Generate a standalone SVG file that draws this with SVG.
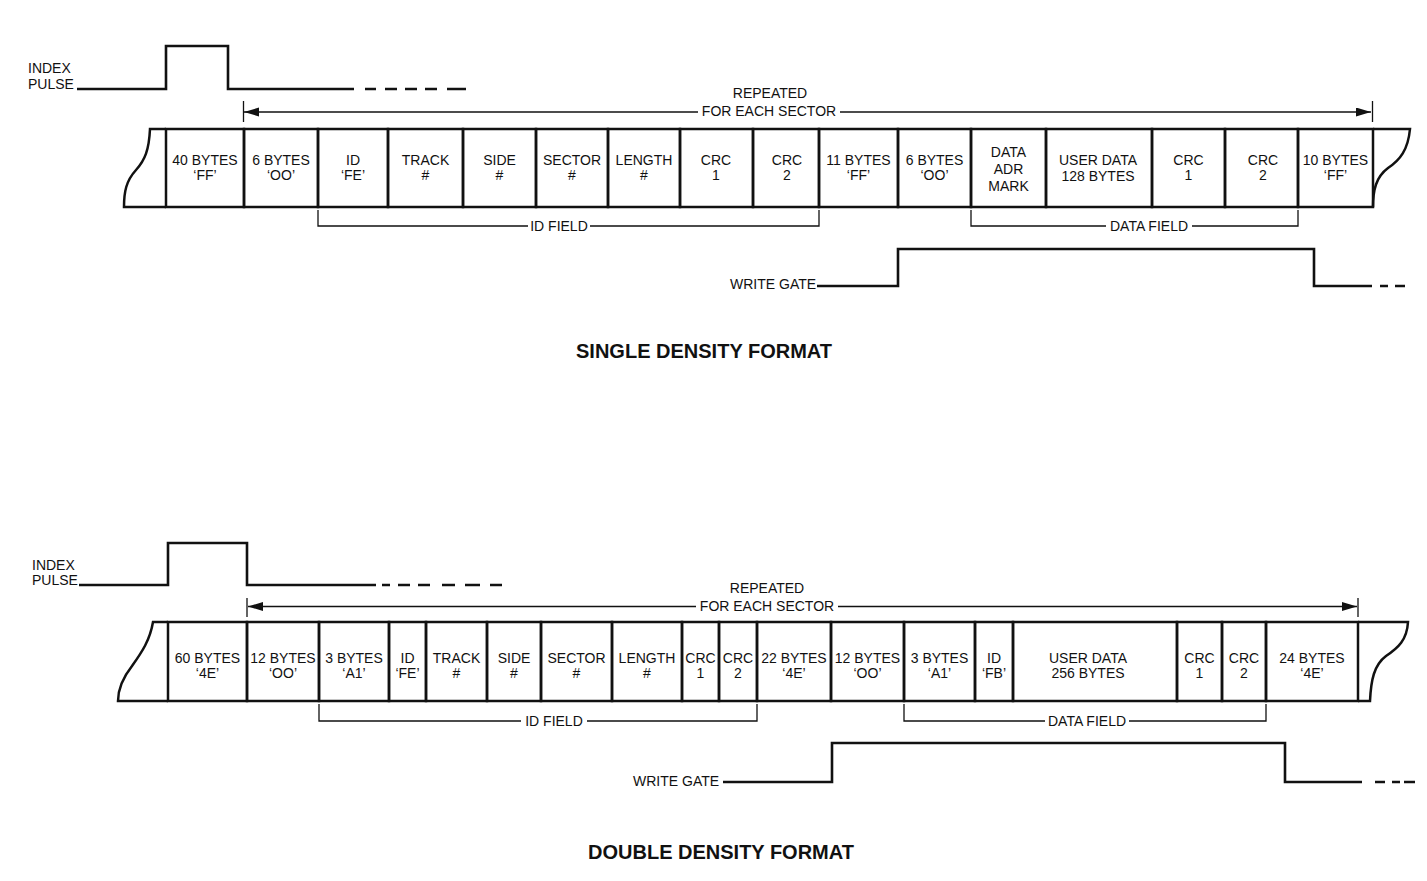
<svg xmlns="http://www.w3.org/2000/svg" width="1427" height="881" viewBox="0 0 1427 881">
<style>
text{font-family:"Liberation Sans",Arial,sans-serif;font-size:14px;fill:#111}
.c{text-anchor:middle}
.e{text-anchor:end}
.title{font-weight:bold;font-size:20px;text-anchor:middle}
.box{fill:none;stroke:#111;stroke-width:2.5}
.sig{fill:none;stroke:#111;stroke-width:2.6;stroke-linejoin:miter}
.thin{fill:none;stroke:#111;stroke-width:1.3}
</style>
<defs>
<marker id="ah" markerUnits="userSpaceOnUse" markerWidth="16" markerHeight="10" refX="15" refY="4.5" orient="auto">
<path d="M0,0 L15,4.5 L0,9 z" fill="#111"/>
</marker>
</defs>
<rect width="1427" height="881" fill="#fff"/>

<!-- ================= SINGLE DENSITY ================= -->
<g id="sd-index-pulse">
<text x="28" y="73">INDEX</text>
<text x="28" y="89">PULSE</text>
<path class="sig" d="M77,89 H166 V46 H228 V89 H354"/>
<path class="sig" d="M365,89 H376 M385,89 H397 M405,89 H417 M425,89 H437 M447,89 H466"/>
</g>

<g id="sd-tape">
<path class="box" d="M166,129 H150 C149,150 145,160 136,170 C126,181 124,192 124,207 H166"/>
<path class="box" d="M1373,129 H1410 C1408,150 1400,160 1388,168 C1376,177 1373,190 1373,207"/>
<g id="sd-c1"><rect class="box" x="166" y="129" width="78" height="78"/><text class="c" x="205" y="164.5">40 BYTES</text><text class="c" x="205" y="180">‘FF’</text></g>
<g id="sd-c2"><rect class="box" x="244" y="129" width="74" height="78"/><text class="c" x="281" y="164.5">6 BYTES</text><text class="c" x="281" y="180">‘OO’</text></g>
<g id="sd-c3"><rect class="box" x="318" y="129" width="70" height="78"/><text class="c" x="353" y="164.5">ID</text><text class="c" x="353" y="180">‘FE’</text></g>
<g id="sd-c4"><rect class="box" x="388" y="129" width="75" height="78"/><text class="c" x="425.5" y="164.5">TRACK</text><text class="c" x="425.5" y="180">#</text></g>
<g id="sd-c5"><rect class="box" x="463" y="129" width="73" height="78"/><text class="c" x="499.5" y="164.5">SIDE</text><text class="c" x="499.5" y="180">#</text></g>
<g id="sd-c6"><rect class="box" x="536" y="129" width="72" height="78"/><text class="c" x="572" y="164.5">SECTOR</text><text class="c" x="572" y="180">#</text></g>
<g id="sd-c7"><rect class="box" x="608" y="129" width="72" height="78"/><text class="c" x="644" y="164.5">LENGTH</text><text class="c" x="644" y="180">#</text></g>
<g id="sd-c8"><rect class="box" x="680" y="129" width="73" height="78"/><text class="c" x="716" y="164.5">CRC</text><text class="c" x="716" y="180">1</text></g>
<g id="sd-c9"><rect class="box" x="753" y="129" width="66" height="78"/><text class="c" x="787" y="164.5">CRC</text><text class="c" x="787" y="180">2</text></g>
<g id="sd-c10"><rect class="box" x="819" y="129" width="79" height="78"/><text class="c" x="858.5" y="164.5">11 BYTES</text><text class="c" x="858.5" y="180">‘FF’</text></g>
<g id="sd-c11"><rect class="box" x="898" y="129" width="73" height="78"/><text class="c" x="934.5" y="164.5">6 BYTES</text><text class="c" x="934.5" y="180">‘OO’</text></g>
<g id="sd-c12"><rect class="box" x="971" y="129" width="75" height="78"/><text class="c" x="1008.5" y="157">DATA</text><text class="c" x="1008.5" y="174">ADR</text><text class="c" x="1008.5" y="191">MARK</text></g>
<g id="sd-c13"><rect class="box" x="1046" y="129" width="106" height="78"/><text class="c" x="1098" y="164.5">USER DATA</text><text class="c" x="1098" y="181">128 BYTES</text></g>
<g id="sd-c14"><rect class="box" x="1152" y="129" width="73" height="78"/><text class="c" x="1188.5" y="164.5">CRC</text><text class="c" x="1188.5" y="180">1</text></g>
<g id="sd-c15"><rect class="box" x="1225" y="129" width="73" height="78"/><text class="c" x="1263" y="164.5">CRC</text><text class="c" x="1263" y="180">2</text></g>
<g id="sd-c16"><rect class="box" x="1298" y="129" width="75" height="78"/><text class="c" x="1335.5" y="164.5">10 BYTES</text><text class="c" x="1335.5" y="180">‘FF’</text></g>
</g>

<g id="sd-write-gate">
<text x="730" y="289">WRITE GATE</text>
<path class="sig" d="M817,286 H898 V249 H1314 V286 H1372"/>
<path class="sig" d="M1380,286 H1388 M1395,286 H1405"/>
</g>

<g id="sd-title"><text class="title" x="704" y="358">SINGLE DENSITY FORMAT</text></g>

<!-- ================= DOUBLE DENSITY ================= -->
<g id="dd-index-pulse">
<text x="32" y="570">INDEX</text>
<text x="32" y="585">PULSE</text>
<path class="sig" d="M79,585 H168 V543 H247 V585 H376"/>
<path class="sig" d="M382,585 H390 M398,585 H410 M418,585 H430 M442,585 H455 M465,585 H480 M490,585 H502"/>
</g>

<g id="dd-tape">
<path class="box" d="M168,622 H153 C150,640 142,652 132,666 C121,680 118,690 118,701 H168"/>
<path class="box" d="M1358,622 H1408 C1407,640 1398,648 1386,656 C1374,665 1371,680 1370,701 H1358"/>
<g id="dd-c1"><rect class="box" x="168" y="622" width="79" height="79"/><text class="c" x="207.5" y="663">60 BYTES</text><text class="c" x="207.5" y="678">‘4E’</text></g>
<g id="dd-c2"><rect class="box" x="247" y="622" width="72" height="79"/><text class="c" x="283" y="663">12 BYTES</text><text class="c" x="283" y="678">‘OO’</text></g>
<g id="dd-c3"><rect class="box" x="319" y="622" width="70" height="79"/><text class="c" x="354" y="663">3 BYTES</text><text class="c" x="354" y="678">‘A1’</text></g>
<g id="dd-c4"><rect class="box" x="389" y="622" width="37" height="79"/><text class="c" x="407.5" y="663">ID</text><text class="c" x="407.5" y="678">‘FE’</text></g>
<g id="dd-c5"><rect class="box" x="426" y="622" width="61" height="79"/><text class="c" x="456.5" y="663">TRACK</text><text class="c" x="456.5" y="678">#</text></g>
<g id="dd-c6"><rect class="box" x="487" y="622" width="54" height="79"/><text class="c" x="514" y="663">SIDE</text><text class="c" x="514" y="678">#</text></g>
<g id="dd-c7"><rect class="box" x="541" y="622" width="71" height="79"/><text class="c" x="576.5" y="663">SECTOR</text><text class="c" x="576.5" y="678">#</text></g>
<g id="dd-c8"><rect class="box" x="612" y="622" width="70" height="79"/><text class="c" x="647" y="663">LENGTH</text><text class="c" x="647" y="678">#</text></g>
<g id="dd-c9"><rect class="box" x="682" y="622" width="37" height="79"/><text class="c" x="700.5" y="663">CRC</text><text class="c" x="700.5" y="678">1</text></g>
<g id="dd-c10"><rect class="box" x="719" y="622" width="38" height="79"/><text class="c" x="738" y="663">CRC</text><text class="c" x="738" y="678">2</text></g>
<g id="dd-c11"><rect class="box" x="757" y="622" width="74" height="79"/><text class="c" x="794" y="663">22 BYTES</text><text class="c" x="794" y="678">‘4E’</text></g>
<g id="dd-c12"><rect class="box" x="831" y="622" width="73" height="79"/><text class="c" x="867.5" y="663">12 BYTES</text><text class="c" x="867.5" y="678">‘OO’</text></g>
<g id="dd-c13"><rect class="box" x="904" y="622" width="71" height="79"/><text class="c" x="939.5" y="663">3 BYTES</text><text class="c" x="939.5" y="678">‘A1’</text></g>
<g id="dd-c14"><rect class="box" x="975" y="622" width="38" height="79"/><text class="c" x="994" y="663">ID</text><text class="c" x="994" y="678">‘FB’</text></g>
<g id="dd-c15"><rect class="box" x="1013" y="622" width="164" height="79"/><text class="c" x="1088" y="663">USER DATA</text><text class="c" x="1088" y="678">256 BYTES</text></g>
<g id="dd-c16"><rect class="box" x="1177" y="622" width="45" height="79"/><text class="c" x="1199.5" y="663">CRC</text><text class="c" x="1199.5" y="678">1</text></g>
<g id="dd-c17"><rect class="box" x="1222" y="622" width="44" height="79"/><text class="c" x="1244" y="663">CRC</text><text class="c" x="1244" y="678">2</text></g>
<g id="dd-c18"><rect class="box" x="1266" y="622" width="92" height="79"/><text class="c" x="1312" y="663">24 BYTES</text><text class="c" x="1312" y="678">‘4E’</text></g>
</g>

<g id="dd-write-gate">
<text x="633" y="786">WRITE GATE</text>
<path class="sig" d="M723,782 H832 V743 H1285 V782 H1362"/>
<path class="sig" d="M1375,782 H1385 M1392,782 H1400 M1404,782 H1415"/>
</g>

<g id="dd-title"><text class="title" x="721" y="859">DOUBLE DENSITY FORMAT</text></g>

<!-- ================= CONNECTORS ================= -->
<g id="connectors">
<!-- single density: repeated-for-each-sector span -->
<path class="thin" d="M243.5,101 V122 M1372.5,101 V122"/>
<path class="thin" d="M698,112 H244" marker-end="url(#ah)"/>
<path class="thin" d="M840,112 H1371" marker-end="url(#ah)"/>
<text class="c" x="770" y="98">REPEATED</text>
<text class="c" x="769" y="116">FOR EACH SECTOR</text>
<!-- single density brackets -->
<path class="thin" d="M318,210 V226 H528 M590,226 H819 V210"/>
<text class="c" x="559" y="231">ID FIELD</text>
<path class="thin" d="M971,210 V226 H1106 M1192,226 H1298 V210"/>
<text class="c" x="1149" y="231">DATA FIELD</text>

<!-- double density: repeated-for-each-sector span -->
<path class="thin" d="M247,598 V617 M1358,598 V617"/>
<path class="thin" d="M696,606.5 H248" marker-end="url(#ah)"/>
<path class="thin" d="M838,606.5 H1357" marker-end="url(#ah)"/>
<text class="c" x="767" y="593">REPEATED</text>
<text class="c" x="767" y="611">FOR EACH SECTOR</text>
<!-- double density brackets -->
<path class="thin" d="M319,704 V721 H521 M587,721 H757 V704"/>
<text class="c" x="554" y="726">ID FIELD</text>
<path class="thin" d="M904,704 V721 H1045 M1129,721 H1266 V704"/>
<text class="c" x="1087" y="726">DATA FIELD</text>
</g>
</svg>
